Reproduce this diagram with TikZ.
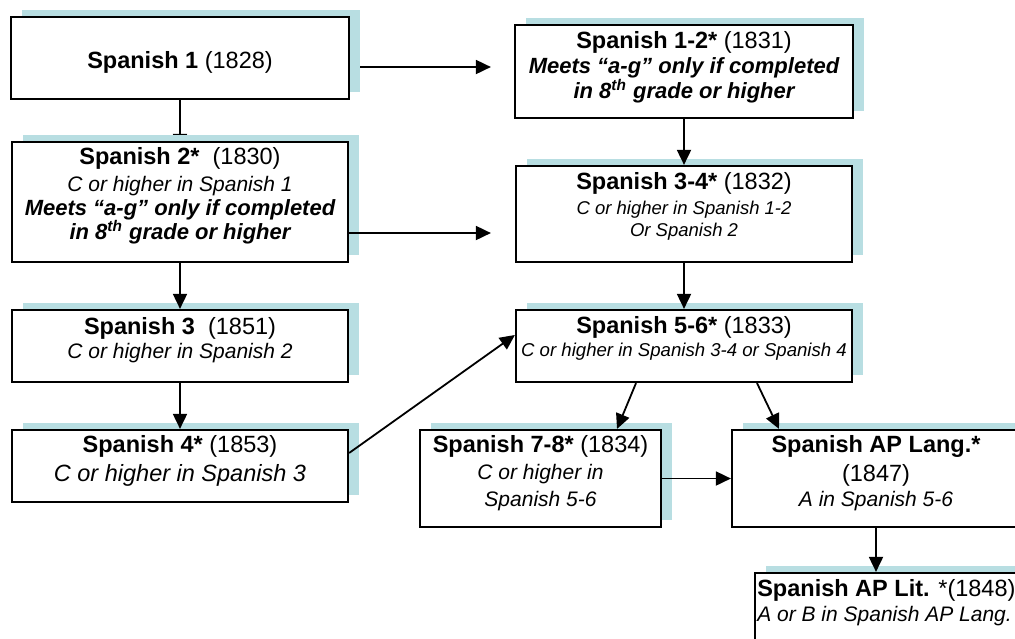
\documentclass[tikz,border=0pt]{standalone}
\usepackage{fontspec}
\setmainfont{Liberation Sans}
\usetikzlibrary{arrows.meta,shadows,calc,backgrounds}
\definecolor{shadowblue}{RGB}{184,222,226}
\newcommand{\fT}{\fontsize{11.75}{14}\selectfont}
\newcommand{\fBI}{\fontsize{11}{12}\selectfont\bfseries\itshape}
\newcommand{\fI}[1]{\fontsize{#1}{12}\selectfont\itshape}

\begin{document}
\begin{tikzpicture}[x=0.5pt,y=-0.5pt,
  box/.style={draw=black,line width=1.1pt,fill=white,inner sep=0pt,
    general shadow={fill=shadowblue,shadow xshift=5.25pt,shadow yshift=3.75pt}},
  txt/.style={inner sep=0pt,align=center,anchor=north},
  arr/.style={line width=0.9pt,-{Triangle[length=7.5pt,width=7pt]}}]
\useasboundingbox (0,0) rectangle (1015,638);

\node[box,minimum width=169pt,minimum height=41pt] (s1) at (180,58) {};
\node[box,minimum width=168pt,minimum height=60pt] (s2) at (180,202) {};
\node[box,minimum width=168pt,minimum height=36pt] (s3) at (180,346) {};
\node[box,minimum width=168pt,minimum height=36pt] (s4) at (180,466) {};
\node[box,minimum width=169pt,minimum height=46.5pt] (s12) at (684,71.5) {};
\node[box,minimum width=168pt,minimum height=48pt] (s34) at (684,214) {};
\node[box,minimum width=168pt,minimum height=36pt] (s56) at (684,346) {};
\node[box,minimum width=120.5pt,minimum height=48.5pt] (s78) at (540.5,478.5) {};
\node[box,minimum width=144pt,minimum height=48.5pt] (aplang) at (876,478.5) {};
\node[box,minimum width=137.5pt,minimum height=38.5pt] (aplit) at (892.5,611.5) {};

\node[txt,anchor=base] (s1t) at ($(s1.center)+(0,10.5)$) {\fT\textbf{Spanish 1} (1828)};
\node[txt] (s2t) at ($(s2.north)+(0,6)$) {\fT\textbf{Spanish 2*}\ \ (1830)\\[1.5pt]
  \fI{10.5}C or higher in Spanish 1\\
  \fBI Meets “a-g” only if completed\\
  \fBI in 8\textsuperscript{th} grade or higher};
\node[txt] (s3t) at ($(s3.north)+(0,8)$) {\fT\textbf{Spanish 3}\ \ (1851)\\[0pt]
  \fI{10.5}C or higher in Spanish 2};
\node[txt] (s4t) at ($(s4.north)+(0,6)$) {\fT\textbf{Spanish 4*} (1853)\\[2.5pt]
  \fI{11.75}C or higher in Spanish 3};
\node[txt] (s12t) at ($(s12.north)+(0,7)$) {\fT\textbf{Spanish 1-2*} (1831)\\[0.5pt]
  \fBI Meets “a-g” only if completed\\[0.5pt]
  \fBI in 8\textsuperscript{th} grade or higher};
\node[txt] (s34t) at ($(s34.north)+(0,7)$) {\fT\textbf{Spanish 3-4*} (1832)\\[0.5pt]
  \fI{9.25}C or higher in Spanish 1-2\\[-1pt]
  \fI{9.25}Or Spanish 2};
\node[txt] (s56t) at ($(s56.north)+(0,7)$) {\fT\textbf{Spanish 5-6*} (1833)\\[-0.5pt]
  \fI{9.3}C or higher in Spanish 3-4 or Spanish 4};
\node[txt] (s78t) at ($(s78.north)+(0,6)$) {\fT\textbf{Spanish 7-8*} (1834)\\[1.5pt]
  \fI{10.5}C or higher in\\[1.5pt]
  \fI{10.5}Spanish 5-6};
\node[txt] (aplangt) at ($(aplang.north)+(0,6)$) {\fT\textbf{Spanish AP Lang.*}\\[2.5pt]
  \fT(1847)\\[0.5pt]
  \fI{10.5}A in Spanish 5-6};
\node[txt,align=left,anchor=north west] (aplitt) at ($(aplit.north west)+(3,7)$)
  {\fT\textbf{Spanish AP Lit.} *(1848)\\[0.5pt]
  \fI{10.5}A or B in Spanish AP Lang.};

\begin{scope}[on background layer]
\draw[arr] (s1.south) -- ($(s2.north)+(0,8)$);
\end{scope}
\coordinate (a) at ($(s1.east)+(10,9)$);
\coordinate (b) at ($(s2.east)+(0,31)$);
\draw[arr] (a) -- ($(a -| s12.west)+(-23,0)$);
\draw[arr] (b) -- ($(b -| s34.west)+(-24,0)$);
\draw[arr] (s2.south) -- (s3.north);
\draw[arr] (s3.south) -- (s4.north);
\draw[arr] (s12.south) -- (s34.north);
\draw[arr] (s34.south) -- (s56.north);
\draw[arr] ($(s4.east)+(0,-13)$) -- ($(s56.west)+(0,-11)$);
\draw[arr] ($(s56.south)+(-48,0)$) -- ($(s78.north)+(76.5,0)$);
\draw[arr] ($(s56.south)+(73,0)$) -- ($(aplang.north)+(-97,0)$);
\draw[arr] (s78.east) -- (aplang.west);
\draw[arr] (aplang.south) -- (aplang.south |- aplit.north);
\end{tikzpicture}
\end{document}
